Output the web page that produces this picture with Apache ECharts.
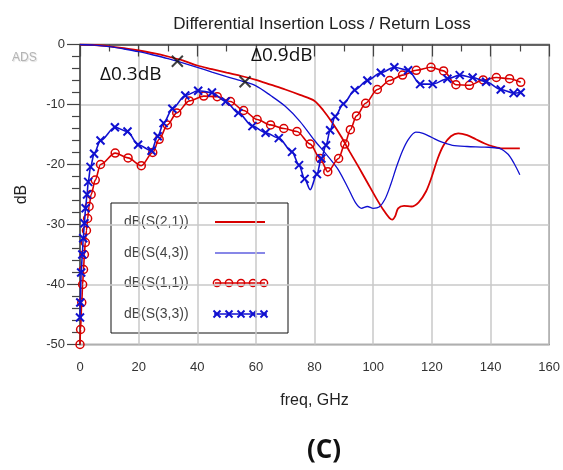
<!DOCTYPE html>
<html>
<head>
<meta charset="utf-8">
<script src="https://cdn.jsdelivr.net/npm/echarts@6.0.0/dist/echarts.min.js"></script>
<style>
  html, body { margin: 0; padding: 0; background: #fff; }
  #main { width: 563px; height: 470px; }
</style>
</head>
<body>
<div id="main"></div>
<script>
// insertion loss, S(2,1) red
const s21Freq = [0, 5, 10, 15, 20, 25, 30, 35, 40, 45, 50, 55, 60, 65, 70, 75, 80, 83, 86, 89, 92, 95, 98, 101, 103.5, 105.5, 106.5, 107.5, 108.5, 110.5, 113, 115.5, 118, 120, 122, 124, 126.5, 129, 132, 135, 138, 141, 144, 147, 150];
const s21Db = [0, -0.08, -0.3, -0.6, -1.0, -1.45, -2.0, -2.65, -3.5, -4.1, -4.7, -5.25, -5.9, -6.7, -7.5, -8.4, -9.4, -11.0, -13.0, -15.3, -17.9, -20.4, -23.0, -25.6, -27.6, -28.9, -29.2, -28.6, -27.3, -26.9, -27.0, -26.3, -24.5, -22.0, -19.0, -16.8, -15.3, -14.8, -15.1, -15.8, -16.5, -17.0, -17.3, -17.3, -17.3];

// insertion loss, S(4,3) blue
const s43Freq = [0, 5, 10, 15, 20, 25, 30, 35, 40, 45, 50, 55, 60, 65, 70, 75, 80, 84, 88, 91.5, 94, 96, 98, 100, 102, 104, 106, 108, 110, 112, 114.5, 117, 120, 123, 127, 132, 138, 143, 146, 148, 150];
const s43Db = [0, -0.1, -0.35, -0.75, -1.2, -1.75, -2.35, -3.05, -3.8, -4.6, -5.35, -6.05, -6.9, -8.5, -10.3, -12.8, -16.0, -18.3, -20.8, -24.0, -26.4, -27.3, -27.0, -27.3, -27.1, -25.8, -23.3, -20.3, -17.7, -15.8, -14.6, -14.8, -15.5, -16.2, -16.8, -17.0, -17.1, -17.3, -18.3, -19.8, -21.7];

// return loss, S(1,1) red circles
const s11Freq = [0, 0.2, 0.6, 0.9, 1.2, 1.5, 1.8, 2.2, 2.6, 3.1, 3.8, 5.2, 7, 12, 16.4, 20.9, 24.8, 27, 29.8, 33, 37.3, 42.2, 46.8, 51.3, 55.8, 60.4, 65, 69.5, 74, 78.5, 81.9, 84.5, 88.2, 90.3, 92.2, 94.3, 97.4, 101.4, 105.6, 110, 114.7, 119.7, 124, 128.2, 132.8, 137.5, 142, 146.5, 150.3];
const s11Db = [-50, -47.5, -43, -40, -37.5, -35, -33, -31, -29, -27, -25, -22.6, -20, -18.1, -18.9, -20.2, -18, -15.8, -13.4, -11.4, -9.4, -8.6, -8.7, -9.5, -11, -12.5, -13.4, -14, -14.5, -16.6, -19, -21.2, -19, -16.6, -14.2, -11.9, -9.8, -7.5, -6, -5.1, -4.3, -3.8, -4.4, -6.7, -6.8, -5.9, -5.5, -5.7, -6.3];

// return loss, S(3,3) blue crosses
const s33Freq = [0, 0.1, 0.4, 0.8, 1.1, 1.5, 1.9, 2.4, 2.8, 3.6, 4.8, 7, 11.9, 16.2, 19.8, 24.4, 26.5, 28.5, 31.5, 35.9, 40.3, 45, 49.7, 54, 58.8, 63.3, 67.8, 72.3, 74.7, 76.6, 78.5, 80.8, 82.3, 83.9, 85.3, 87, 89.8, 93.7, 98, 102.6, 107.2, 111.9, 116, 120.3, 125.3, 129.5, 133.9, 138.5, 143.5, 147.9, 150.3];
const s33Db = [-45.5, -43, -38, -35, -32.3, -29.8, -27.3, -25, -22.9, -20.4, -18.2, -16, -13.8, -14.5, -16.7, -17.7, -15.3, -13.1, -10.7, -8.5, -7.7, -8, -9.5, -11.4, -13.6, -14.7, -15.6, -17.9, -20.1, -22.4, -24.2, -21.6, -19, -16.8, -14.3, -12, -9.9, -7.6, -6, -4.7, -3.8, -4.3, -6.6, -6.6, -5.7, -5.1, -5.5, -6.2, -7.5, -8.1, -8];
const s33Trough = 30; // index of the trough point drawn without a marker

// delta markers on the insertion loss curves
const markFreq = [33.2, 56.3];
const markDb = [-2.8, -6.2];
const markText = ['Δ0.3dB', 'Δ0.9dB'];

const xTicks = [0, 20, 40, 60, 80, 100, 120, 140, 160];
const yTicks = [0, -10, -20, -30, -40, -50];

const RED = '#d80000';
const BLUE = '#1010d0';
const CROSS = 'path://M0,0L10,10M10,0L0,10';

function zip(f, v) {
    return f.map((x, i) => [x, v[i]]);
}

const s33Data = zip(s33Freq, s33Db).map((p, i) => i === s33Trough ? {value: p, symbol: 'none'} : p);

const myChart = echarts.init(document.getElementById('main'));
const font = '"Liberation Sans", Arial, sans-serif';

// legend drawn by hand: text on the left, line sample on the right
const legendNames = ['dB(S(2,1))', 'dB(S(4,3))', 'dB(S(1,1))', 'dB(S(3,3))'];
const legendY = [222, 253, 283, 314];
const legendItems = [
    {type: 'rect', shape: {x: 111, y: 203, width: 177, height: 130}, style: {fill: 'none', stroke: '#111', lineWidth: 1}}
];
legendNames.forEach((n, i) => {
    legendItems.push({type: 'text', x: 124, y: legendY[i], style: {text: n, font: '14px ' + font, fill: '#444', verticalAlign: 'middle'}});
});
legendItems.push({type: 'line', shape: {x1: 215, y1: legendY[0], x2: 265, y2: legendY[0]}, style: {stroke: RED, lineWidth: 1.8}});
legendItems.push({type: 'line', shape: {x1: 215, y1: legendY[1], x2: 265, y2: legendY[1]}, style: {stroke: BLUE, lineWidth: 1.2}});
legendItems.push({type: 'line', shape: {x1: 215, y1: legendY[2], x2: 265, y2: legendY[2]}, style: {stroke: RED, lineWidth: 1.6}});
legendItems.push({type: 'line', shape: {x1: 214, y1: legendY[3], x2: 267, y2: legendY[3]}, style: {stroke: BLUE, lineWidth: 1.6}});
[217, 229, 241, 253, 264].forEach(x => {
    legendItems.push({type: 'circle', shape: {cx: x, cy: legendY[2], r: 3.6}, style: {fill: 'none', stroke: RED, lineWidth: 1.5}});
});
[217, 229, 241, 253, 264].forEach(x => {
    legendItems.push({type: 'polyline', shape: {points: [[x - 3.5, legendY[3] - 3.5], [x + 3.5, legendY[3] + 3.5]]}, style: {stroke: BLUE, lineWidth: 2}});
    legendItems.push({type: 'polyline', shape: {points: [[x + 3.5, legendY[3] - 3.5], [x - 3.5, legendY[3] + 3.5]]}, style: {stroke: BLUE, lineWidth: 2}});
});

myChart.setOption({
    animation: false,
    title: {
        text: 'Differential Insertion Loss / Return Loss',
        left: 317,
        top: 11,
        textAlign: 'center',
        textStyle: {fontFamily: font, fontSize: 17, fontWeight: 'normal', color: '#222'}
    },
    grid: {
        left: 80,
        right: 11,
        top: 44.5,
        bottom: 125.5,
        show: true,
        borderColor: '#666',
        borderWidth: 1.5,
        backgroundColor: 'transparent'
    },
    xAxis: {
        type: 'value',
        min: 0,
        max: 160,
        interval: 20,
        name: 'freq, GHz',
        nameLocation: 'middle',
        nameGap: 48,
        nameTextStyle: {fontFamily: font, fontSize: 16, color: '#222'},
        axisLine: {lineStyle: {color: '#444', width: 1.5}},
        axisTick: {length: 12, lineStyle: {color: '#444', width: 1.2}},
        minorTick: {show: true, splitNumber: 2, length: 7, lineStyle: {color: '#444', width: 1.2}},
        axisLabel: {
            margin: 16, fontFamily: font, fontSize: 13, color: '#333',
            formatter: v => xTicks.indexOf(v) >= 0 ? String(v) : ''
        },
        splitLine: {lineStyle: {color: '#c8c8c8', width: 1.5}}
    },
    yAxis: {
        type: 'value',
        min: -50,
        max: 0,
        interval: 10,
        name: 'dB',
        nameLocation: 'middle',
        nameGap: 50,
        nameTextStyle: {fontFamily: font, fontSize: 16, color: '#222'},
        axisLine: {lineStyle: {color: '#444', width: 1.5}},
        axisTick: {length: 13, lineStyle: {color: '#444', width: 1.2}},
        minorTick: {show: true, splitNumber: 5, length: 8, lineStyle: {color: '#444', width: 1.2}},
        axisLabel: {
            margin: 15, fontFamily: font, fontSize: 13, color: '#333',
            formatter: v => yTicks.indexOf(v) >= 0 ? String(v) : ''
        },
        splitLine: {lineStyle: {color: '#c8c8c8', width: 1.5}}
    },
    series: [
        {
            name: 'dB(S(2,1))',
            type: 'line',
            data: zip(s21Freq, s21Db),
            showSymbol: false,
            smooth: 0.3,
            lineStyle: {color: RED, width: 1.8},
            z: 3
        },
        {
            name: 'dB(S(4,3))',
            type: 'line',
            data: zip(s43Freq, s43Db),
            showSymbol: false,
            smooth: 0.3,
            lineStyle: {color: BLUE, width: 1.3},
            z: 3
        },
        {
            name: 'dB(S(1,1))',
            type: 'line',
            data: zip(s11Freq, s11Db),
            symbol: 'circle',
            symbolSize: 8,
            smooth: 0.3,
            smoothMonotone: 'x',
            lineStyle: {color: RED, width: 1.6},
            itemStyle: {color: 'rgba(0,0,0,0)', borderColor: RED, borderWidth: 1.5},
            z: 4
        },
        {
            name: 'dB(S(3,3))',
            type: 'line',
            data: s33Data,
            symbol: CROSS,
            symbolSize: 8,
            smooth: 0.3,
            smoothMonotone: 'x',
            lineStyle: {color: BLUE, width: 1.6},
            itemStyle: {color: 'rgba(0,0,0,0)', borderColor: BLUE, borderWidth: 2},
            z: 5
        },
        {
            name: 'markers',
            type: 'scatter',
            data: zip(markFreq, markDb),
            symbol: CROSS,
            symbolSize: 11,
            itemStyle: {color: 'rgba(0,0,0,0)', borderColor: '#111', borderWidth: 2},
            z: 6
        }
    ],
    graphic: [
        {type: 'text', x: 100, y: 74.5, z: 10, style: {text: markText[0], font: '19px "Open Sans", sans-serif', fill: '#111', verticalAlign: 'middle'}},
        {type: 'text', x: 251, y: 56, z: 10, style: {text: markText[1], font: '19px "Open Sans", sans-serif', fill: '#111', verticalAlign: 'middle'}},
        {type: 'text', x: 12, y: 58, z: 10, style: {text: 'ADS', font: '12px ' + font, fill: '#b4b4b4', verticalAlign: 'middle', textShadowColor: '#ddd', textShadowOffsetX: 1, textShadowOffsetY: 1, textShadowBlur: 1}},
        {type: 'text', x: 324, y: 451, z: 10, style: {text: '(C)', font: 'bold 26px "Open Sans", sans-serif', fill: '#111', align: 'center', verticalAlign: 'middle'}},
        {type: 'group', z: 20, children: legendItems}
    ]
});
</script>
</body>
</html>
